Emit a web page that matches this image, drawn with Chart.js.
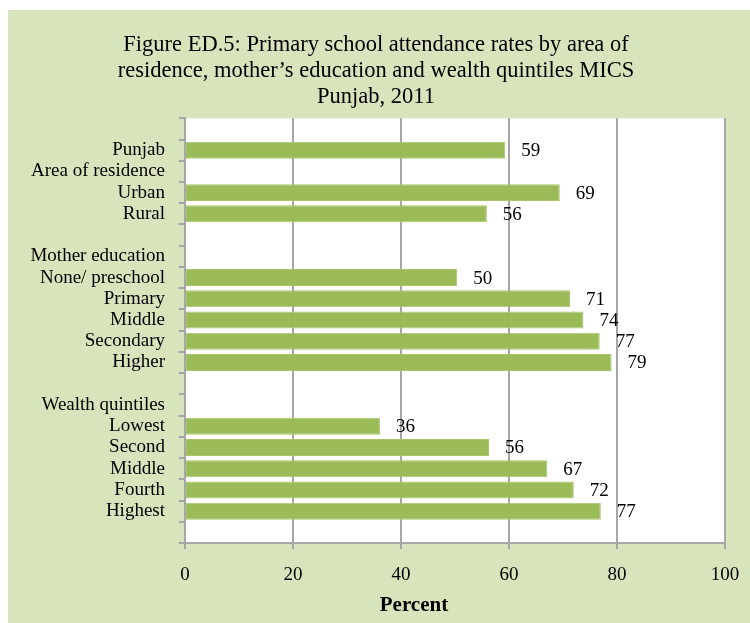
<!DOCTYPE html>
<html>
<head>
<meta charset="utf-8">
<script src="https://cdn.jsdelivr.net/npm/chart.js@4"></script>
<style>
  html, body { margin: 0; padding: 0; background: #ffffff; }
  #wrap { width: 750px; height: 623px; position: relative; }
</style>
</head>
<body>
<div id="wrap"><canvas id="barChart"></canvas></div>
<script>
// rows top to bottom, blank strings are spacer rows
const categories = [
  "", "Punjab", "Area of residence", "Urban", "Rural", "",
  "Mother education", "None/ preschool", "Primary", "Middle", "Secondary", "Higher", "",
  "Wealth quintiles", "Lowest", "Second", "Middle", "Fourth", "Highest", ""
];
const attendance = [
  null, 59.3, null, 69.4, 55.9, null,
  null, 50.4, 71.3, 73.8, 76.8, 79.0, null,
  null, 36.1, 56.3, 67.1, 72.0, 77.0, null
];
const xTicks = [0, 20, 40, 60, 80, 100];
const titleLines = [
  "Figure ED.5: Primary school attendance rates by area of",
  "residence, mother\u2019s education and wealth quintiles MICS",
  "Punjab, 2011"
];
const axisTitle = "Percent";

const fontFamily = "'Liberation Serif', 'DejaVu Serif', serif";
const gridGrey = "#a6a6a6";

// green backdrop, offset like the original figure
const backdrop = {
  id: "backdrop",
  beforeDraw(chart) {
    const ctx = chart.ctx;
    ctx.save();
    ctx.fillStyle = "#d8e4bc";
    ctx.fillRect(8, 10, chart.width - 8, chart.height - 10);
    const a = chart.chartArea;
    ctx.fillStyle = "#ffffff";
    ctx.fillRect(a.left, a.top, a.right - a.left, a.bottom - a.top);
    ctx.restore();
  }
};

// value labels to the right of each bar, plus the x axis title
const valueLabels = {
  id: "valueLabels",
  afterDatasetsDraw(chart) {
    const ctx = chart.ctx;
    const meta = chart.getDatasetMeta(0);
    ctx.save();
    ctx.font = "19px " + fontFamily;
    ctx.fillStyle = "#000000";
    ctx.textAlign = "left";
    ctx.textBaseline = "middle";
    meta.data.forEach((bar, i) => {
      const v = attendance[i];
      if (v === null) return;
      ctx.fillText(String(Math.round(v)), bar.x + 16, bar.y + 1);
    });
    const a = chart.chartArea;
    ctx.font = "bold 21px " + fontFamily;
    ctx.textAlign = "center";
    ctx.fillText(axisTitle, a.left + (a.right - a.left) * 0.424, 606);
    ctx.restore();
  }
};

new Chart(document.getElementById("barChart").getContext("2d"), {
  type: "bar",
  data: {
    labels: categories,
    datasets: [{
      data: attendance,
      backgroundColor: "#9bbb59",
      borderColor: "#a9c56c",
      borderWidth: 1,
      borderSkipped: false,
      categoryPercentage: 1,
      barPercentage: 0.8
    }]
  },
  options: {
    indexAxis: "y",
    responsive: true,
    maintainAspectRatio: false,
    animation: false,
    layout: { padding: { left: 27, right: 25, top: 10, bottom: 0 } },
    plugins: {
      legend: { display: false },
      tooltip: { enabled: false },
      title: {
        display: true,
        text: titleLines,
        color: "#000000",
        font: { family: fontFamily, size: 22.5, weight: "normal", lineHeight: 1.16 },
        padding: { top: 22, bottom: 8 }
      }
    },
    scales: {
      x: {
        min: 0,
        max: 100,
        afterBuildTicks(scale) {
          scale.ticks = xTicks.map((v) => ({ value: v }));
        },
        afterFit(scale) {
          scale.height = 80;
          scale.paddingLeft = 0;
          scale.paddingRight = 0;
        },
        grid: {
          color: gridGrey,
          lineWidth: 2,
          drawTicks: true,
          tickLength: 6,
          tickColor: gridGrey
        },
        border: { display: true, color: gridGrey, width: 2 },
        ticks: {
          color: "#000000",
          padding: 15,
          font: { family: fontFamily, size: 19 }
        }
      },
      y: {
        afterFit(scale) {
          scale.width = 158;
          scale.paddingTop = 0;
          scale.paddingBottom = 0;
        },
        grid: {
          offset: true,
          drawOnChartArea: false,
          drawTicks: true,
          tickLength: 6,
          tickColor: gridGrey,
          lineWidth: 2
        },
        border: { display: true, color: gridGrey, width: 2 },
        ticks: {
          color: "#000000",
          padding: 14,
          autoSkip: false,
          font: { family: fontFamily, size: 19 }
        }
      }
    }
  },
  plugins: [backdrop, valueLabels]
});
</script>
</body>
</html>
